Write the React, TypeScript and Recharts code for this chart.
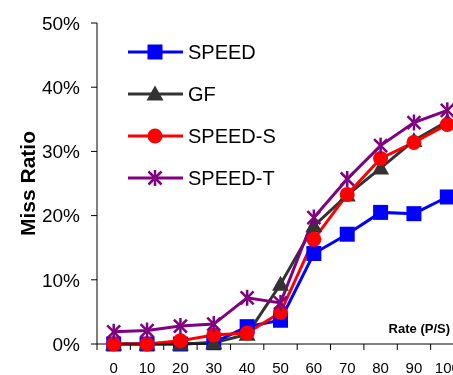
import React from "react";
import { LineChart, Line, XAxis, YAxis, Legend } from "recharts";

const rates = [0, 10, 20, 30, 40, 50, 60, 70, 80, 90, 100];
const speed = [0, 0, 0, 0.2, 2.7, 3.7, 14.1, 17.1, 20.5, 20.3, 22.9];
const gf = [0, 0, 0, 0.2, 1.5, 9.3, 18.4, 23.2, 27.4, 31.7, 34.7];
const speedS = [0, 0, 0.5, 1.4, 1.7, 4.9, 16.3, 23.3, 28.9, 31.4, 34.2];
const speedT = [1.9, 2.1, 2.8, 3.1, 7.2, 6.4, 19.7, 25.7, 30.9, 34.5, 36.4];
const yTicks = [0, 10, 20, 30, 40, 50];
// category boundaries get a tick mark, category centres get a label
const xTicks = [-5, 0, 5, 10, 15, 20, 25, 30, 35, 40, 45, 50, 55, 60, 65, 70, 75, 80, 85, 90, 95, 100, 105];

const data = rates.map((rate, i) => ({
  rate,
  speed: speed[i],
  gf: gf[i],
  speedS: speedS[i],
  speedT: speedT[i],
}));

const FONT = "'Liberation Sans', Arial, sans-serif";
const TICK_SIZE = 6;
const TICK_MARGIN = 12;

type Shape = "square" | "triangle" | "circle" | "star";

const series: { key: string; name: string; color: string; shape: Shape }[] = [
  { key: "speed", name: "SPEED", color: "#0000ff", shape: "square" },
  { key: "gf", name: "GF", color: "#333333", shape: "triangle" },
  { key: "speedS", name: "SPEED-S", color: "#ff0000", shape: "circle" },
  { key: "speedT", name: "SPEED-T", color: "#800080", shape: "star" },
];

function Marker({ shape, cx, cy, color }: { shape: Shape; cx: number; cy: number; color: string }) {
  if (shape === "square") {
    return <rect x={cx - 7.5} y={cy - 7.5} width={15} height={15} fill={color} />;
  }
  if (shape === "triangle") {
    return (
      <polygon
        points={`${cx},${cy - 8.5} ${cx + 8.5},${cy + 6.5} ${cx - 8.5},${cy + 6.5}`}
        fill={color}
      />
    );
  }
  if (shape === "circle") {
    return <circle cx={cx} cy={cy} r={7.5} fill={color} />;
  }
  const r = 8;
  const d = 6.5;
  return (
    <g stroke={color} strokeWidth={2.5}>
      <line x1={cx} y1={cy - r} x2={cx} y2={cy + r} />
      <line x1={cx - d} y1={cy - d} x2={cx + d} y2={cy + d} />
      <line x1={cx - d} y1={cy + d} x2={cx + d} y2={cy - d} />
    </g>
  );
}

function XTick(props: any) {
  const { x, y, payload } = props;
  const v = payload.value;
  if (v % 10 !== 0) {
    const axisY = y - TICK_SIZE - TICK_MARGIN;
    return <line x1={x} y1={axisY} x2={x} y2={axisY + TICK_SIZE} stroke="#000" strokeWidth={1} />;
  }
  return (
    <text x={x} y={y} dy="0.71em" textAnchor="middle" fontSize={15} fontFamily={FONT} fill="#000">
      {v}
    </text>
  );
}

function LegendBox() {
  return (
    <div style={{ fontFamily: FONT }}>
      {series.map((s) => (
        <div key={s.key} style={{ display: "flex", alignItems: "center", height: 42 }}>
          <svg width={56} height={20}>
            <line x1={0} y1={10} x2={55} y2={10} stroke={s.color} strokeWidth={3} />
            <Marker shape={s.shape} cx={27} cy={10} color={s.color} />
          </svg>
          <span style={{ fontSize: 20, marginLeft: 4, color: "#000" }}>{s.name}</span>
        </div>
      ))}
    </div>
  );
}

export default function App() {
  return (
    <div style={{ position: "fixed", left: 8, top: 8, width: 445, height: 367, overflow: "hidden" }}>
      <LineChart
        width={470}
        height={367}
        data={data}
        margin={{ top: 15, right: 14, bottom: 0, left: 0 }}
      >
        <XAxis
          dataKey="rate"
          type="number"
          domain={[-5, 105]}
          ticks={xTicks}
          interval={0}
          height={31}
          tickSize={TICK_SIZE}
          tickMargin={TICK_MARGIN}
          tickLine={false}
          axisLine={{ stroke: "#000", strokeWidth: 1 }}
          tick={<XTick />}
          label={({ viewBox }: any) => (
            <text
              x={viewBox.x + viewBox.width - 14}
              y={viewBox.y - 11}
              textAnchor="end"
              fontSize={13}
              fontWeight="bold"
              fontFamily={FONT}
              fill="#000"
            >
              Rate (P/S)
            </text>
          )}
        />
        <YAxis
          domain={[0, 50]}
          ticks={yTicks}
          interval={0}
          width={89}
          tickSize={6}
          tickMargin={11}
          tickFormatter={(v: number) => `${v}%`}
          tick={{ fontSize: 19, fill: "#000", fontFamily: FONT }}
          axisLine={{ stroke: "#000", strokeWidth: 1 }}
          tickLine={{ stroke: "#000", strokeWidth: 1 }}
          label={({ viewBox }: any) => (
            <text
              x={19}
              y={viewBox.y + viewBox.height / 2}
              transform={`rotate(-90, 19, ${viewBox.y + viewBox.height / 2})`}
              textAnchor="middle"
              dominantBaseline="central"
              fontSize={21}
              fontWeight="bold"
              fontFamily={FONT}
              fill="#000"
            >
              Miss Ratio
            </text>
          )}
        />
        <Legend
          layout="vertical"
          align="center"
          verticalAlign="middle"
          wrapperStyle={{ top: 23, left: 120, width: 250 }}
          content={() => <LegendBox />}
        />
        {series.map((s) => (
          <Line
            key={s.key}
            dataKey={s.key}
            name={s.name}
            stroke={s.color}
            strokeWidth={3}
            isAnimationActive={false}
            dot={(p: any) => (
              <Marker key={`${s.key}-${p.index}`} shape={s.shape} cx={p.cx} cy={p.cy} color={s.color} />
            )}
            activeDot={false}
          />
        ))}
      </LineChart>
    </div>
  );
}
